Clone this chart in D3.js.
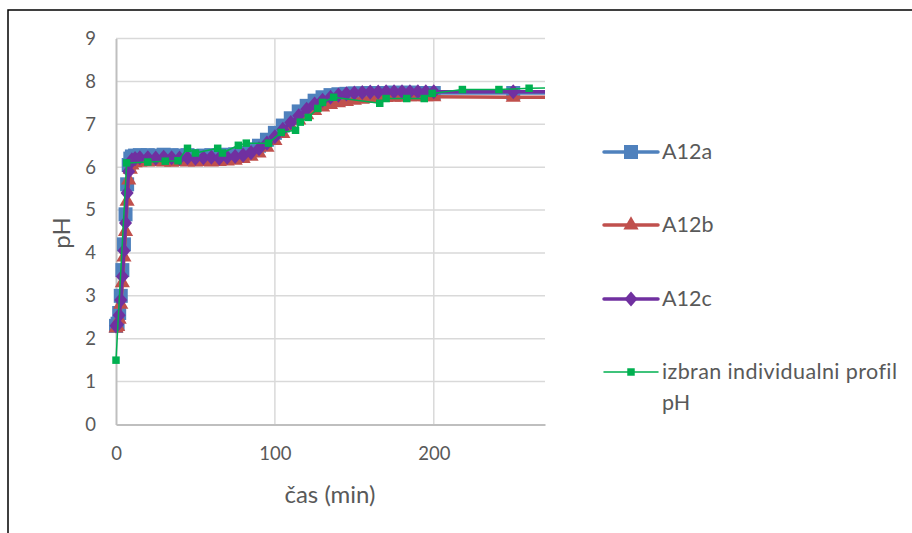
<!DOCTYPE html>
<html>
<head>
<meta charset="utf-8">
<script src="https://cdn.jsdelivr.net/npm/d3@7"></script>
<style>
  body { margin: 0; background: #fff; }
  svg { display: block; font-family: Lato, "Open Sans", sans-serif; }
</style>
</head>
<body>
<svg id="chart"></svg>
<script>
// sampling times shared by the three measured series (min)
const timeABC = [0,1,2,3,4,5,6,7,8,9,10,12,15,
  20,25,30,35,40,45,50,55,60,65,70,75,
  80,85,90,95,100,105,110,115,120,125,130,135,140,
  145,150,155,160,165,170,175,180,185,190,195,200,250,300];

const phA12a = [2.3,2.35,2.6,3.0,3.6,4.2,4.9,5.6,6.05,6.2,6.25,6.27,6.28,
  6.28,6.27,6.29,6.28,6.27,6.28,6.26,6.27,6.28,6.27,6.29,6.3,
  6.34,6.41,6.5,6.64,6.8,6.97,7.14,7.3,7.43,7.55,7.63,7.68,7.7,
  7.71,7.72,7.72,7.73,7.73,7.73,7.74,7.73,7.74,7.73,7.73,7.73,7.73,7.73];

const phA12b = [2.25,2.28,2.45,2.8,3.3,3.9,4.5,5.2,5.7,5.95,6.05,6.1,6.12,
  6.12,6.13,6.12,6.11,6.13,6.12,6.12,6.13,6.12,6.13,6.14,6.16,
  6.2,6.25,6.33,6.46,6.62,6.78,6.95,7.1,7.22,7.32,7.4,7.46,7.5,
  7.53,7.56,7.58,7.6,7.62,7.62,7.63,7.63,7.64,7.64,7.64,7.64,7.63,7.63];

const phA12c = [2.3,2.33,2.55,2.9,3.45,4.05,4.7,5.4,5.9,6.1,6.17,6.2,6.22,
  6.22,6.21,6.23,6.22,6.21,6.22,6.21,6.22,6.23,6.21,6.23,6.25,
  6.28,6.34,6.43,6.56,6.71,6.88,7.04,7.2,7.35,7.47,7.56,7.63,7.68,
  7.71,7.73,7.74,7.75,7.75,7.76,7.76,7.76,7.76,7.76,7.76,7.76,7.76,7.76];

// selected individual profile
const timeProfil = [0,6.7,20,31,39,45,50,64,67,77,82,96,104,113,116,121,127,130,137,166,170,183,194,199,218,241,260,280];
const phProfil = [1.5,6.1,6.12,6.14,6.15,6.44,6.33,6.44,6.33,6.51,6.56,6.56,6.81,6.86,7.05,7.16,7.37,7.51,7.63,7.49,7.6,7.6,7.6,7.72,7.81,7.81,7.84,7.85];

const xTicks = [0, 100, 200];
const yTicks = [0,1,2,3,4,5,6,7,8,9];

const W = 912, H = 533;
const margin = {left: 116, top: 38.5, right: 367, bottom: 108.5};
const pw = W - margin.left - margin.right;
const ph = H - margin.top - margin.bottom;

const svg = d3.select("#chart").attr("width", W).attr("height", H);

// outer frame (only top and left visible)
svg.append("path")
  .attr("d", `M8,${H} L8,10 L${W},10`)
  .attr("fill", "none").attr("stroke", "#000").attr("stroke-width", 1.5);

const plot = svg.append("g").attr("transform", `translate(${margin.left},${margin.top})`);

const x = d3.scaleLinear().domain([0, 270]).range([0, pw]);
const y = d3.scaleLinear().domain([0, 9]).range([ph, 0]);

// gridlines
plot.append("g")
  .selectAll("line").data(yTicks.slice(1)).join("line")
  .attr("x1", 0).attr("x2", pw)
  .attr("y1", d => y(d)).attr("y2", d => y(d))
  .attr("stroke", "#d9d9d9").attr("stroke-width", 1.5);
plot.append("g")
  .selectAll("line").data(xTicks.slice(1)).join("line")
  .attr("x1", d => x(d)).attr("x2", d => x(d))
  .attr("y1", 0).attr("y2", ph)
  .attr("stroke", "#d9d9d9").attr("stroke-width", 1.5);

// axes
const xAxis = plot.append("g").attr("transform", `translate(0,${ph})`)
  .call(d3.axisBottom(x).tickValues(xTicks).tickSize(0).tickPadding(22));
const yAxis = plot.append("g")
  .call(d3.axisLeft(y).tickValues(yTicks).tickSize(0).tickPadding(20));
[xAxis, yAxis].forEach(a => {
  a.select(".domain").attr("stroke", "#bfbfbf").attr("stroke-width", 2);
  a.selectAll("text").attr("fill", "#595959").attr("font-size", 18.5)
    .attr("font-family", "Lato, sans-serif");
});

// axis titles
svg.append("text")
  .attr("x", 330).attr("y", 503)
  .attr("text-anchor", "middle").attr("fill", "#595959").attr("font-size", 24)
  .text("čas (min)");
svg.append("text")
  .attr("transform", "translate(70,233) rotate(-90)")
  .attr("text-anchor", "middle").attr("fill", "#595959").attr("font-size", 24)
  .text("pH");

svg.append("clipPath").attr("id", "clip")
  .append("rect").attr("x", -margin.left).attr("y", -margin.top)
  .attr("width", margin.left + pw).attr("height", H);

// Excel-like diamond: a bit taller than wide
const diamond = {
  draw(ctx, size) {
    const w = Math.sqrt(size) * 0.62, h = Math.sqrt(size) * 0.72;
    ctx.moveTo(0, -h); ctx.lineTo(w, 0); ctx.lineTo(0, h); ctx.lineTo(-w, 0); ctx.closePath();
  }
};

const series = [
  {name: "A12a", t: timeABC, v: phA12a, color: "#4F81BD", shape: d3.symbolSquare, size: 196, lw: 3.5},
  {name: "A12b", t: timeABC, v: phA12b, color: "#C0504D", shape: d3.symbolTriangle, size: 100, lw: 3.5},
  {name: "A12c", t: timeABC, v: phA12c, color: "#7030A0", shape: diamond, size: 110, lw: 3.5},
  {name: "izbran individualni profil pH", t: timeProfil, v: phProfil, color: "#00B050", shape: d3.symbolSquare, size: 56, lw: 1.5}
];

const line = d3.line().x(d => x(d[0])).y(d => y(d[1]));
const layer = plot.append("g").attr("clip-path", "url(#clip)");

series.forEach(s => {
  const pts = s.t.map((t, i) => [t, s.v[i]]);
  layer.append("path").datum(pts)
    .attr("d", line).attr("fill", "none")
    .attr("stroke", s.color).attr("stroke-width", s.lw).attr("stroke-linejoin", "round");
  layer.append("g").selectAll("path").data(pts).join("path")
    .attr("transform", d => `translate(${x(d[0])},${y(d[1])})`)
    .attr("d", d3.symbol().type(s.shape).size(s.size))
    .attr("fill", s.color);
});

// legend
const legY = [152, 225, 299, 372];
const leg = svg.append("g");
series.forEach((s, i) => {
  const g = leg.append("g").attr("transform", `translate(0,${legY[i]})`);
  g.append("line").attr("x1", 604).attr("x2", 658)
    .attr("stroke", s.color).attr("stroke-width", s.lw).attr("stroke-linecap", "round");
  g.append("path").attr("transform", "translate(631,0)")
    .attr("d", d3.symbol().type(s.shape).size(s.size)).attr("fill", s.color);
  const txt = g.append("text").attr("x", 662).attr("y", 7)
    .attr("fill", "#595959").attr("font-size", 21.5);
  if (i === 3) {
    txt.append("tspan").attr("x", 662).attr("letter-spacing", 0.4).text("izbran individualni profil");
    txt.append("tspan").attr("x", 662).attr("dy", 31).text("pH");
  } else {
    txt.text(s.name);
  }
});
</script>
</body>
</html>
